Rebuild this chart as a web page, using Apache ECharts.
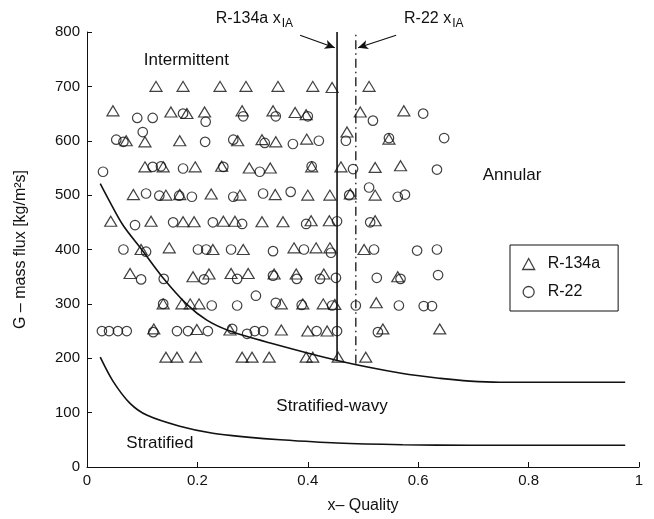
<!DOCTYPE html>
<html>
<head>
<meta charset="utf-8">
<script src="https://cdn.jsdelivr.net/npm/echarts@6/dist/echarts.min.js"></script>
<style>
  html, body { margin: 0; padding: 0; background: #fff; }
  #chart { width: 654px; height: 519px; }
</style>
</head>
<body>
<div id="chart"></div>
<script>
// data (x = quality, y = G in kg/m2s)
const r134aPoints = [
  [0.125, 700], [0.174, 700], [0.241, 700], [0.288, 700], [0.346, 700], [0.409, 700], [0.444, 698], [0.511, 700],
  [0.047, 655], [0.152, 653], [0.181, 650], [0.213, 653], [0.281, 655], [0.337, 655], [0.377, 652], [0.397, 648], [0.495, 653], [0.574, 655],
  [0.071, 600], [0.105, 598], [0.168, 600], [0.273, 600], [0.317, 602], [0.342, 598], [0.398, 603], [0.471, 616], [0.547, 603],
  [0.105, 552], [0.138, 552], [0.196, 552], [0.244, 553], [0.294, 550], [0.332, 550], [0.407, 552], [0.460, 552], [0.522, 551], [0.568, 554],
  [0.084, 501], [0.143, 500], [0.168, 501], [0.225, 502], [0.277, 500], [0.341, 501], [0.400, 500], [0.440, 500], [0.477, 502], [0.522, 500],
  [0.043, 452], [0.116, 452], [0.174, 451], [0.194, 451], [0.247, 452], [0.268, 452], [0.317, 451], [0.355, 451], [0.406, 453], [0.439, 453], [0.522, 453],
  [0.098, 400], [0.149, 403], [0.228, 400], [0.283, 400], [0.375, 403], [0.415, 403], [0.440, 403], [0.502, 400],
  [0.078, 356], [0.192, 350], [0.221, 355], [0.261, 356], [0.292, 356], [0.339, 355], [0.379, 355], [0.429, 355], [0.563, 350],
  [0.138, 300], [0.172, 300], [0.187, 300], [0.203, 300], [0.352, 300], [0.391, 300], [0.428, 300], [0.449, 299], [0.524, 302],
  [0.121, 254], [0.199, 253], [0.259, 252], [0.352, 252], [0.400, 250], [0.435, 250], [0.536, 254], [0.639, 254],
  [0.143, 202], [0.163, 202], [0.197, 202], [0.281, 202], [0.299, 202], [0.330, 202], [0.397, 202], [0.409, 202], [0.455, 202], [0.505, 202]
];
const r22Points = [
  [0.091, 642], [0.119, 642], [0.174, 650], [0.215, 635], [0.283, 645], [0.342, 645], [0.400, 645], [0.518, 637], [0.609, 650],
  [0.053, 602], [0.066, 598], [0.101, 616], [0.214, 598], [0.265, 602], [0.322, 596], [0.373, 594], [0.420, 600], [0.469, 600], [0.547, 605], [0.647, 605],
  [0.029, 543], [0.119, 552], [0.134, 553], [0.174, 549], [0.247, 552], [0.313, 543], [0.407, 553], [0.482, 548], [0.634, 547],
  [0.107, 503], [0.131, 499], [0.167, 499], [0.190, 497], [0.265, 497], [0.319, 503], [0.369, 506], [0.475, 500], [0.511, 514], [0.563, 497], [0.576, 501],
  [0.087, 445], [0.156, 450], [0.228, 450], [0.281, 447], [0.397, 447], [0.453, 452], [0.513, 450],
  [0.066, 400], [0.107, 396], [0.201, 400], [0.216, 400], [0.261, 400], [0.337, 397], [0.393, 400], [0.442, 394], [0.520, 400], [0.598, 398], [0.634, 400],
  [0.098, 345], [0.139, 346], [0.212, 345], [0.272, 346], [0.337, 352], [0.380, 346], [0.422, 346], [0.451, 348], [0.525, 348], [0.568, 346], [0.636, 353],
  [0.138, 300], [0.226, 297], [0.272, 297], [0.306, 315], [0.342, 302], [0.389, 298], [0.444, 297], [0.487, 297], [0.565, 297], [0.610, 296], [0.625, 296],
  [0.027, 250], [0.040, 250], [0.056, 250], [0.072, 250], [0.120, 248], [0.163, 250], [0.183, 250], [0.219, 250], [0.263, 254], [0.290, 245], [0.304, 250], [0.319, 250], [0.416, 250], [0.453, 250], [0.527, 248]
];
// transition curves
const wavyCurve = [
  [0.024, 521], [0.038, 494], [0.065, 445], [0.099, 400], [0.136, 350], [0.181, 299], [0.217, 270], [0.259, 250],
  [0.332, 228], [0.453, 196], [0.572, 172], [0.640, 163], [0.694, 158], [0.748, 156], [0.975, 156]
];
const stratCurve = [
  [0.024, 202], [0.047, 158], [0.078, 117], [0.109, 95], [0.168, 75], [0.228, 62], [0.290, 55], [0.350, 50],
  [0.453, 44], [0.572, 41], [0.694, 40], [0.975, 40]
];
// intermittent-annular transition qualities
const xIA134a = 0.453;
const xIA22 = 0.487;
const xIALow = [196, 190];
const regionLabels = [
  { name: 'Intermittent', value: [0.18, 748] },
  { name: 'Annular', value: [0.77, 536] },
  { name: 'Stratified-wavy', value: [0.444, 112] },
  { name: 'Stratified', value: [0.132, 44] }
];
const xTicks = [0, 0.2, 0.4, 0.6, 0.8, 1];

const font = 'Liberation Sans, Arial, sans-serif';
const ink = '#111';
const chart = echarts.init(document.getElementById('chart'));

const option = {
  animation: false,
  textStyle: { fontFamily: font, color: ink },
  grid: { left: 87, right: 15, top: 32, bottom: 50 },
  xAxis: {
    type: 'value', min: 0, max: 1, interval: 0.2,
    name: 'x\u2013 Quality', nameLocation: 'middle', nameGap: 31,
    nameTextStyle: { fontSize: 16, color: ink, fontFamily: font },
    axisLine: { lineStyle: { color: ink, width: 1 } },
    axisTick: { inside: true, length: 5, lineStyle: { color: ink } },
    axisLabel: { fontSize: 15, color: ink, margin: 6, formatter: v => xTicks.includes(+v.toFixed(1)) ? String(+v.toFixed(1)) : '' },
    splitLine: { show: false }
  },
  yAxis: {
    type: 'value', min: 0, max: 800, interval: 100,
    name: 'G \u2013 mass flux [kg/m\u00b2s]', nameLocation: 'middle', nameGap: 58,
    nameTextStyle: { fontSize: 16, color: ink, fontFamily: font },
    axisLine: { show: true, lineStyle: { color: ink, width: 1 } },
    axisTick: { show: true, inside: true, length: 5, lineStyle: { color: ink } },
    axisLabel: { fontSize: 15, color: ink, margin: 7 },
    splitLine: { show: false }
  },
  legend: {
    orient: 'vertical', left: 510, top: 245,
    padding: [11, 18, 11, 12], itemGap: 12, itemWidth: 12, itemHeight: 11,
    borderColor: ink, borderWidth: 1, backgroundColor: '#fff',
    textStyle: { fontSize: 16, color: ink, fontFamily: font, padding: [0, 0, 0, 8] },
    data: [
      { name: 'R-134a', icon: 'triangle', itemStyle: { color: 'rgba(0,0,0,0)', borderColor: ink, borderWidth: 1.3 } },
      { name: 'R-22', icon: 'circle', itemStyle: { color: 'rgba(0,0,0,0)', borderColor: ink, borderWidth: 1.3 } }
    ]
  },
  series: [
    {
      name: 'R-134a', type: 'scatter', symbol: 'triangle', symbolSize: [12, 10],
      itemStyle: { color: 'rgba(0,0,0,0)', borderColor: ink, borderWidth: 1.2 },
      data: r134aPoints, z: 3
    },
    {
      name: 'R-22', type: 'scatter', symbol: 'circle', symbolSize: 9.5,
      itemStyle: { color: 'rgba(0,0,0,0)', borderColor: ink, borderWidth: 1.2 },
      data: r22Points, z: 3
    },
    {
      type: 'line', data: wavyCurve, smooth: 0.3, showSymbol: false,
      lineStyle: { color: ink, width: 1.6 }
    },
    {
      type: 'line', data: stratCurve, smooth: 0.3, showSymbol: false,
      lineStyle: { color: ink, width: 1.6 }
    },
    {
      type: 'line', data: [[xIA134a, xIALow[0]], [xIA134a, 800]], showSymbol: false,
      lineStyle: { color: ink, width: 1.6 },
      markLine: {
        silent: true, symbol: ['none', 'arrow'], symbolSize: [7, 10],
        lineStyle: { color: ink, width: 1.2, type: 'solid' }, label: { show: false },
        data: [
          [{ coord: [0.386, 794] }, { coord: [xIA134a - 0.004, 771] }],
          [{ coord: [0.560, 794] }, { coord: [xIA22 + 0.004, 771] }]
        ]
      }
    },
    {
      type: 'line', data: [[xIA22, xIALow[1]], [xIA22, 800]], showSymbol: false,
      lineStyle: { color: ink, width: 1.3, type: [9, 4, 1.5, 4] }
    },
    {
      type: 'scatter', symbolSize: 1, silent: true, data: regionLabels,
      itemStyle: { opacity: 0 },
      label: {
        show: true, position: 'inside', formatter: '{b}', fontSize: 17, color: ink,
        fontFamily: font, textBorderWidth: 0, opacity: 1
      }
    }
  ],
  graphic: [
    {
      type: 'text', right: 654 - 293, top: 11,
      style: {
        text: 'R-134a x{s|IA}', fill: ink, font: '16px ' + font,
        rich: { s: { fontSize: 12, fontFamily: font, fill: ink, padding: [10, 0, 0, 1] } }
      }
    },
    {
      type: 'text', left: 404, top: 11,
      style: {
        text: 'R-22 x{s|IA}', fill: ink, font: '16px ' + font,
        rich: { s: { fontSize: 12, fontFamily: font, fill: ink, padding: [10, 0, 0, 1] } }
      }
    }
  ]
};
chart.setOption(option);
</script>
</body>
</html>
